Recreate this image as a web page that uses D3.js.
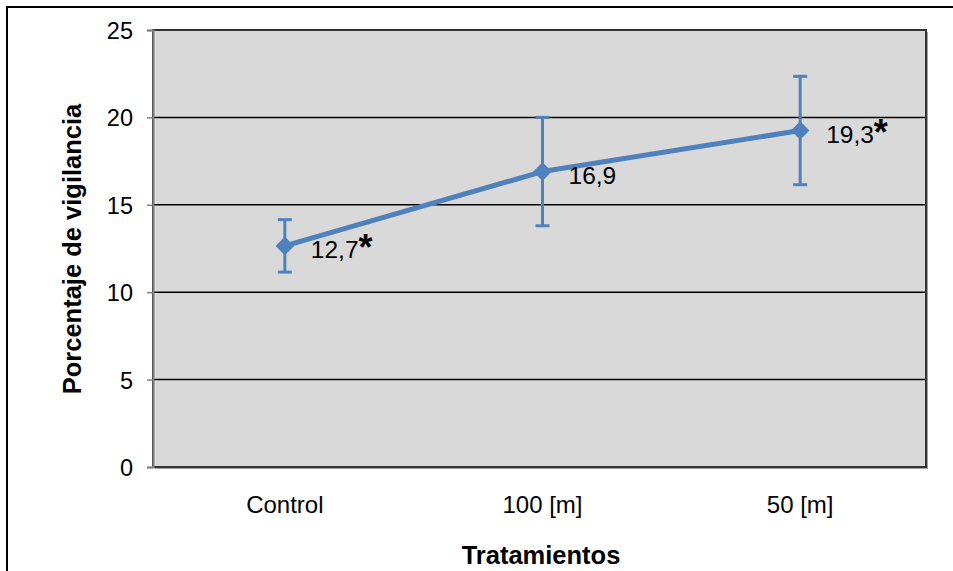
<!DOCTYPE html>
<html><head><meta charset="utf-8">
<script src="https://cdn.jsdelivr.net/npm/d3@7"></script>
<style>body{margin:0;background:#fff}svg{display:block}</style>
</head><body>
<script>
const categories = ["Control", "100 [m]", "50 [m]"];
const values = [12.65, 16.9, 19.25];
const errors = [1.5, 3.1, 3.1];
const labels = ["12,7", "16,9", "19,3"];
const stars = [true, false, true];
const yTicks = [0, 5, 10, 15, 20, 25];

const W = 953, H = 571;
const m = {l: 153, r: 926, t: 30, b: 467};
const svg = d3.select("body").append("svg").attr("width", W).attr("height", H);
const font = "'Liberation Sans', Arial, sans-serif";

// outer border
svg.append("path").attr("d", `M7,${H} V7 H${W}`).attr("fill","none").attr("stroke","#000").attr("stroke-width",2);

const x = d3.scalePoint().domain(categories).range([m.l+3, m.r+3]).padding(0.5);
const y = d3.scaleLinear().domain([0, 25]).range([m.b, m.t]);

// shadow + plot area
svg.append("rect").attr("x", m.l+2).attr("y", m.t+2).attr("width", m.r-m.l).attr("height", m.b-m.t).attr("fill","#a0a0a0");
svg.append("rect").attr("x", m.l).attr("y", m.t).attr("width", m.r-m.l).attr("height", m.b-m.t).attr("fill","#d9d9d9");

// gridlines
svg.append("g").selectAll("line").data(yTicks.filter(d => d>0 && d<25)).join("line")
  .attr("x1", m.l).attr("x2", m.r).attr("y1", d=>y(d)).attr("y2", d=>y(d))
  .attr("stroke","#000").attr("stroke-width",1.5);

// plot border
svg.append("rect").attr("x", m.l).attr("y", m.t).attr("width", m.r-m.l).attr("height", m.b-m.t)
  .attr("fill","none").attr("stroke","#333").attr("stroke-width",2);

// y axis
const ya = svg.append("g").attr("transform", `translate(${m.l},0)`)
  .call(d3.axisLeft(y).tickValues(yTicks).tickSize(6).tickPadding(14));
ya.select(".domain").attr("stroke","#808080").attr("stroke-width",2);
ya.selectAll(".tick line").attr("stroke","#808080").attr("stroke-width",1.5);
ya.selectAll("text").attr("font-family", font).attr("font-size", 23.5).attr("fill","#000").attr("dy","0.36em");

// x axis labels
svg.append("g").selectAll("text").data(categories).join("text")
  .attr("x", d=>x(d)).attr("y", 513).attr("text-anchor","middle")
  .attr("font-family", font).attr("font-size", 24).text(d=>d);

// titles
svg.append("text").attr("x", 541).attr("y", 564).attr("text-anchor","middle")
  .attr("font-family", font).attr("font-size", 25.5).attr("font-weight","bold").text("Tratamientos");
svg.append("text").attr("transform", `translate(81,249) rotate(-90)`).attr("text-anchor","middle")
  .attr("font-family", font).attr("font-size", 25.5).attr("font-weight","bold").text("Porcentaje de vigilancia");

const blue = "#4f81bd";
// error bars
const eb = svg.append("g");
categories.forEach((c,i) => {
  const cx = x(c), y1 = y(values[i]+errors[i]), y2 = y(values[i]-errors[i]);
  eb.append("line").attr("x1",cx).attr("x2",cx).attr("y1",y1).attr("y2",y2).attr("stroke",blue).attr("stroke-width",3);
  [y1,y2].forEach(yy => eb.append("line").attr("x1",cx-7).attr("x2",cx+7).attr("y1",yy).attr("y2",yy).attr("stroke",blue).attr("stroke-width",3));
});

// line
svg.append("path").datum(values).attr("fill","none").attr("stroke",blue).attr("stroke-width",5)
  .attr("stroke-linejoin","round")
  .attr("d", d3.line().x((d,i)=>x(categories[i])).y(d=>y(d)));

// markers
svg.append("g").selectAll("path").data(values).join("path")
  .attr("transform",(d,i)=>`translate(${x(categories[i])},${y(d)})`)
  .attr("d", d3.symbol().type(d3.symbolDiamond2).size(220)).attr("fill",blue);

// data labels
const lab = svg.append("g").selectAll("text").data(labels).join("text")
  .attr("x",(d,i)=>x(categories[i])+26).attr("y",(d,i)=>y(values[i])+12)
  .attr("font-family", font).attr("font-size", 24.5).attr("fill","#000");
lab.append("tspan").text(d=>d);
lab.append("tspan").attr("font-weight","bold").attr("font-size",36).attr("dy",2).text((d,i)=>stars[i]?"*":"");
</script>
</body></html>
